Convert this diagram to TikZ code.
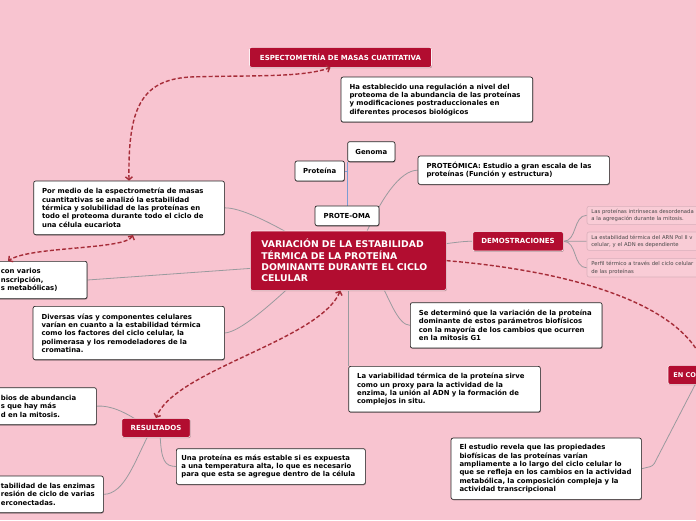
\documentclass[tikz,border=0pt]{standalone}
\usepackage{fontspec}
\setmainfont{DejaVu Sans}
\usetikzlibrary{arrows.meta,shadows}
\definecolor{bgpink}{HTML}{F8C4D0}
\definecolor{mmred}{HTML}{B20D30}
\definecolor{dashred}{HTML}{A62C38}
\definecolor{lnk}{HTML}{9A9A9E}
\definecolor{blueln}{HTML}{7A9CD3}
\definecolor{subfill}{HTML}{F9CCD6}
\definecolor{subdraw}{HTML}{D9B0BB}
\pgfdeclarelayer{bg}
\pgfsetlayers{bg,main}
\newcommand{\bodyf}{\fontsize{6.9}{8.3}\selectfont\bfseries}
\newcommand{\lblf}{\fontsize{7}{8.4}\selectfont\bfseries}
\newcommand{\centf}{\fontsize{9.3}{11.3}\selectfont\bfseries}
\newcommand{\subf}{\fontsize{5.3}{7.3}\selectfont}
\begin{document}
\begin{tikzpicture}[x=1pt,y=-1pt,
  shad/.style={drop shadow={shadow xshift=0.5pt,shadow yshift=-0.9pt,opacity=0.3,fill=black}},
  wbox/.style={shad,draw=black!85,fill=white,rounded corners=2pt,line width=0.7pt,inner xsep=8.5pt,inner ysep=2pt,anchor=north west,align=left,font=\bodyf},
  sbox/.style={shad,draw=black!85,fill=white,rounded corners=2pt,line width=0.7pt,inner sep=0pt,anchor=center,align=center,font=\bodyf},
  rbox/.style={shad,draw=white!75!bgpink,fill=mmred,rounded corners=2pt,line width=0.6pt,inner sep=0pt,text=white,font=\lblf,align=center},
  subbox/.style={draw=subdraw,fill=subfill,rounded corners=2pt,line width=0.6pt,inner xsep=4.3pt,inner ysep=1pt,anchor=north west,align=left,font=\subf,text=black!72},
  gl/.style={draw=lnk,line width=0.8pt},
  dl/.style={draw=dashred,line width=1.4pt,dash pattern=on 4pt off 2.2pt},
  >={Straight Barb[length=3pt,width=7pt]}]
\useasboundingbox (0,0) rectangle (696,520);
\begin{pgfonlayer}{bg}
\fill[bgpink] (0,0) rectangle (696,520);
\end{pgfonlayer}
\clip (0,0) rectangle (696,520);

% red label nodes
\node[rbox,minimum width=182pt,minimum height=20pt] (esp) at (340.5,57.3) {ESPECTOMETRÍA DE MASAS CUATITATIVA};
\node[rbox,minimum width=90.6pt,minimum height=19.3pt] (demos) at (518,241.3) {DEMOSTRACIONES};
\node[rbox,minimum width=68.3pt,minimum height=19pt] (resultados) at (156,427.8) {RESULTADOS};
\node[rbox,anchor=north west,inner xsep=5.3pt,text width=61.7pt,align=left,minimum height=19pt,font=\fontsize{6.6}{8}\selectfont\bfseries] (enco) at (667.7,365) {EN CO};
\node[rbox,anchor=north west,inner xsep=11pt,text width=174pt,align=left,minimum height=59.3pt,font=\centf] (central) at (250,230.7)
  {VARIACIÓN DE LA ESTABILIDAD\\TÉRMICA DE LA PROTEÍNA\\DOMINANTE DURANTE EL CICLO\\CELULAR};

% small white labels
\node[sbox,minimum width=47.3pt,minimum height=20pt] (genoma) at (371.3,151.7) {Genoma};
\node[sbox,minimum width=49.3pt,minimum height=20pt] (proteina) at (319.7,171) {Proteína};
\node[sbox,minimum width=64pt,minimum height=19.7pt] (proteoma) at (347,215.8) {PROTE-OMA};

% white text boxes
\node[wbox,text width=174.6pt,minimum height=45pt] (ha) at (340.7,76.7)
  {Ha establecido una regulación a nivel del\\proteoma de la abundancia de las proteínas\\y modificaciones postraduccionales en\\diferentes procesos biológicos};
\node[wbox,text width=174.3pt,minimum height=28.3pt] (proteomica) at (417.7,155.7)
  {PROTEÓMICA: Estudio a gran escala de las\\proteínas (Función y estructura)};
\node[wbox,text width=173.7pt,minimum height=53.6pt] (pormedio) at (33.3,180.7)
  {Por medio de la espectrometría de masas\\cuantitativas se analizó la estabilidad\\térmica y solubilidad de las proteínas en\\todo el proteoma durante todo el ciclo de\\una célula eucariota};
\node[wbox,inner xsep=6.5pt,text width=79.7pt,minimum height=37.3pt] (leftA) at (-6,261)
  {con varios\\nscripción,\\s metabólicas)};
\node[wbox,text width=174.3pt,minimum height=53.3pt] (diversas) at (32.7,306)
  {Diversas vías y componentes celulares\\varían en cuanto a la estabilidad térmica\\como los factores del ciclo celular, la\\polimerasa y los remodeladores de la\\cromatina.};
\node[wbox,text width=174.7pt,minimum height=45.4pt] (sedet) at (410,302.3)
  {Se determinó que la variación de la proteína\\dominante de estos parámetros biofísicos\\con la mayoría de los cambios que ocurren\\en la mitosis G1};
\node[wbox,text width=174.7pt,minimum height=45.7pt] (variab) at (348.3,366)
  {La variabilidad térmica de la proteína sirve\\como un proxy para la actividad de la\\enzima, la unión al ADN y la formación de\\complejos in situ.};
\node[wbox,text width=173.3pt,minimum height=61.3pt] (estudio) at (450.7,437.7)
  {El estudio revela que las propiedades\\biofísicas de las proteínas varían\\ampliamente a lo largo del ciclo celular lo\\que se refleja en los cambios en la actividad\\metabólica, la composición compleja y la\\actividad transcripcional};
\node[wbox,inner xsep=6.5pt,text width=89pt,minimum height=37pt] (leftB) at (-6,387.3)
  {bios de abundancia\\s que hay más\\d en la mitosis.};
\node[wbox,inner xsep=6.5pt,text width=96pt,minimum height=36.6pt] (leftC) at (-6,475.7)
  {tabilidad de las enzimas\\resión de ciclo de varias\\erconectadas.};
\node[wbox,inner xsep=5pt,text width=179pt,minimum height=35.7pt] (una) at (176,448.3)
  {Una proteína es más estable si es expuesta\\a una temperatura alta, lo que es necesario\\para que esta se agregue dentro de la célula};

% sub boxes (right)
\node[subbox,text width=165pt,minimum height=18pt] (sub1) at (586.7,206)
  {Las proteínas intrínsecas desordenada\\a la agregación durante la mitosis.};
\node[subbox,text width=165pt,minimum height=18.3pt] (sub2) at (586.7,231.7)
  {La estabilidad térmica del ARN Pol II v\\celular, y el ADN es dependiente};
\node[subbox,text width=165pt,minimum height=18.4pt] (sub3) at (586.7,258.3)
  {Perfil térmico a través del ciclo celular\\de las proteínas};

% free ends of connectors
\coordinate (cPor) at (300,240);
\coordinate (cLeftA) at (270,267);
\coordinate (cDiv) at (295,282);
\coordinate (cSed) at (380,282);
\coordinate (cPm) at (365,236);
\coordinate (cDem) at (420,246);
\coordinate (cResL) at (140,422);
\coordinate (cResB) at (150,432);
\coordinate (cResU) at (160,432);
\coordinate (cEncoIn) at (697,381);
\coordinate (cEncoB) at (653,466);
\coordinate (cEspMid) at (190,77);

\begin{pgfonlayer}{bg}
\draw[gl] (pormedio.east) .. controls (240,207.5) and (270,222) .. (cPor);
\draw[gl] (leftA.east) -- (cLeftA);
\draw[gl] (diversas.east) .. controls (240,332) and (270,305) .. (cDiv);
\draw[gl] (sedet.west) .. controls (398,325) and (390,300) .. (cSed);
\draw[gl] (variab.north west) -- (variab.north west |- central.south);
\draw[gl] (proteomica.west) .. controls (400,170) and (380,200) .. (cPm);
\draw[gl] (demos.west) .. controls (460,241) and (450,244) .. (cDem);
\draw[gl] (demos.east) to[out=0,in=180] (sub1.west);
\draw[gl] (demos.east) to[out=0,in=180] (sub2.west);
\draw[gl] (demos.east) to[out=0,in=180] (sub3.west);
\draw[gl] (leftB.east) .. controls (110,405) and (125,412) .. (cResL);
\draw[gl] (leftC.east) .. controls (125,494) and (135,460) .. (cResB);
\draw[gl] (cResU) .. controls (161,462) and (165,466) .. (una.west);
\draw[gl,rounded corners=3pt] (estudio.east) -- (cEncoB) -- (cEncoIn);
\draw[draw=blueln,line width=1pt] (proteoma.north -| genoma.south west) -- (genoma.south west);
\draw[draw=blueln,line width=1pt] (proteina.east) -- (proteina.east -| genoma.south west);
\end{pgfonlayer}

% dashed relations
\draw[dl,<->] (pormedio.north) .. controls (128,110) and (140,80) .. (cEspMid) .. controls (250,75) and (300,78) .. ([xshift=-10pt]esp.south);
\draw[dl,<->] ([xshift=4pt]pormedio.south) .. controls (125,250) and (30,246) .. ([xshift=14pt]leftA.north west);
\draw[dl,<->] ([xshift=-8pt]central.south) .. controls (320,340) and (175,370) .. (resultados.north);
\draw[dl,->] (central.east) .. controls (560,270) and (680,300) .. (enco.north);
\end{tikzpicture}
\end{document}
